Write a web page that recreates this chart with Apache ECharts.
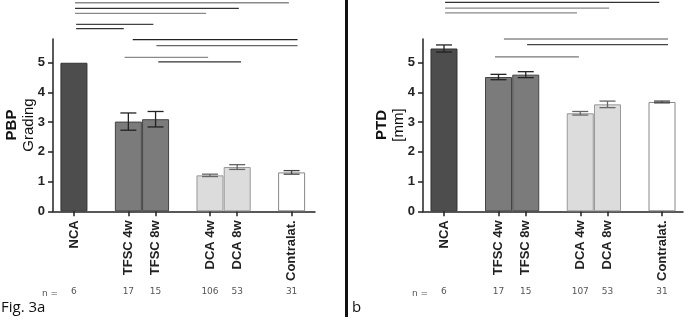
<!DOCTYPE html>
<html>
<head>
<meta charset="utf-8">
<script src="https://cdn.jsdelivr.net/npm/echarts@6/dist/echarts.min.js"></script>
<style>
body{margin:0;background:#fff;}
#wrap{position:relative;width:685px;height:317px;overflow:hidden;}
#main{width:685px;height:317px;}
.ov{position:absolute;white-space:nowrap;}
.ytitle{width:80px;height:34px;text-align:center;font-family:'Liberation Sans';font-size:15px;line-height:17px;color:#111;transform:rotate(-90deg);transform-origin:50% 50%;}
.ytitle b{font-weight:bold;}
.nrow{font-family:'DejaVu Sans';font-size:9px;line-height:9px;color:#555;}
.fig{font-family:'Open Sans';font-size:15px;line-height:15px;color:#111;}
#sep{position:absolute;left:345px;top:0;width:2.5px;height:317px;background:#111;}
</style>
</head>
<body>
<div id="wrap">
<div id="main"></div>
<div id="sep"></div>
<div class="ov ytitle" style="left:-21px;top:108px;"><b>PBP</b><br>Grading</div>
<div class="ov ytitle" style="left:349px;top:108px;"><b>PTD</b><br>[mm]</div>
<div class="ov nrow" style="left:42px;top:289px;">n =</div>
<div class="ov nrow" style="left:412px;top:289px;">n =</div>
<div class="ov fig" style="left:1px;top:299px;">Fig. 3a</div>
<div class="ov fig" style="left:352px;top:299px;">b</div>
</div>
<script>
// groups and their slot on the x axis (gaps between groups)
var groups = ['NCA', 'TFSC 4w', 'TFSC 8w', 'DCA 4w', 'DCA 8w', 'Contralat.'];
var slots = [0, 2, 3, 5, 6, 8];
var barColors = ['#4d4d4d', '#7b7b7b', '#7b7b7b', '#dcdcdc', '#dcdcdc', '#ffffff'];
var barBorders = ['#333333', '#444444', '#444444', '#999999', '#999999', '#888888'];
var errColors = ['#222222', '#222222', '#222222', '#666666', '#666666', '#444444'];

// Fig 3a: PBP grading
var pbpMean = [5.0, 3.02, 3.1, 1.21, 1.49, 1.31];
var pbpErr = [0, 0.29, 0.26, 0.04, 0.08, 0.06];
var pbpN = [6, 17, 15, 106, 53, 31];
// significance brackets: [from slot, to slot, height, colour]
var pbpLines = [
	[0.04, 7.9, 7.02, '#8a8a8a'],
	[0.04, 6.06, 6.83, '#333333'],
	[0.04, 4.86, 6.66, '#8a8a8a'],
	[0.08, 2.92, 6.29, '#444444'],
	[0.08, 1.83, 6.15, '#333333'],
	[2.16, 8.22, 5.78, '#222222'],
	[3.03, 8.22, 5.58, '#666666'],
	[1.86, 4.93, 5.18, '#8a8a8a'],
	[3.1, 6.14, 5.03, '#333333']
];

// Fig 3b: PTD [mm]
var ptdMean = [5.48, 4.52, 4.6, 3.3, 3.6, 3.68];
var ptdErr = [0.12, 0.09, 0.1, 0.06, 0.11, 0.03];
var ptdN = [6, 17, 15, 107, 53, 31];
var ptdLines = [
	[0.04, 7.9, 7.03, '#333333'],
	[0.04, 6.06, 6.84, '#8a8a8a'],
	[0.04, 4.88, 6.68, '#8a8a8a'],
	[2.2, 8.22, 5.8, '#8a8a8a'],
	[3.05, 8.22, 5.61, '#444444'],
	[1.87, 4.95, 5.2, '#777777']
];

var yTicks = [0, 1, 2, 3, 4, 5];
var font = 'Liberation Sans';

var myChart = echarts.init(document.getElementById('main'));

function xAxes(gi, xmax, nArr) {
	return [{
		type: 'value', gridIndex: gi, min: -0.77, max: xmax,
		axisLine: {onZero: false, lineStyle: {color: '#222', width: 1.5}},
		axisTick: {show: true, customValues: slots, length: 5, lineStyle: {color: '#222', width: 1.5}},
		splitLine: {show: false},
		axisLabel: {
			customValues: slots, rotate: 90, margin: 9, hideOverlap: false,
			fontFamily: font, fontWeight: 'bold', fontSize: 13, color: '#222',
			formatter: function (v) { return groups[slots.indexOf(Math.round(v))]; }
		}
	}, {
		type: 'value', gridIndex: gi, min: -0.77, max: xmax, position: 'bottom', offset: 76,
		axisLine: {show: false, onZero: false}, axisTick: {show: false}, splitLine: {show: false},
		axisLabel: {
			customValues: slots, margin: 0, hideOverlap: false,
			fontFamily: 'DejaVu Sans', fontSize: 9, color: '#555',
			formatter: function (v) { return nArr[slots.indexOf(Math.round(v))]; }
		}
	}];
}

function yAxis(gi) {
	return {
		type: 'value', gridIndex: gi, min: 0, max: 5.8, interval: 1,
		axisLine: {show: true, onZero: false, lineStyle: {color: '#222', width: 1.5}},
		axisTick: {show: true, customValues: yTicks, length: 5, lineStyle: {color: '#222', width: 1.5}},
		splitLine: {show: false},
		axisLabel: {
			showMaxLabel: false, margin: 8, hideOverlap: false,
			fontFamily: font, fontWeight: 'bold', fontSize: 13, color: '#222',
			formatter: function (v) { return yTicks.indexOf(v) >= 0 ? String(v) : ''; }
		}
	};
}

function barSeries(ax, means) {
	var data = [];
	for (var i = 0; i < means.length; i++) {
		data.push({
			value: [slots[i], means[i]],
			itemStyle: {color: barColors[i], borderColor: barBorders[i], borderWidth: 1}
		});
	}
	return {type: 'bar', xAxisIndex: ax, yAxisIndex: ax / 2, barWidth: 27, data: data, z: 2};
}

function errSeries(ax, means, errs) {
	var data = [];
	for (var i = 0; i < means.length; i++) {
		if (errs[i] > 0) data.push([slots[i], means[i] - errs[i], means[i] + errs[i], i]);
	}
	return {
		type: 'custom', xAxisIndex: ax, yAxisIndex: ax / 2, z: 3,
		renderItem: function (params, api) {
			var lo = api.coord([api.value(0), api.value(1)]);
			var hi = api.coord([api.value(0), api.value(2)]);
			var c = errColors[api.value(3)];
			var w = 8;
			return {
				type: 'group',
				children: [
					{type: 'line', shape: {x1: lo[0], y1: lo[1], x2: hi[0], y2: hi[1]}, style: {stroke: c, lineWidth: 1.3}},
					{type: 'line', shape: {x1: lo[0] - w, y1: lo[1], x2: lo[0] + w, y2: lo[1]}, style: {stroke: c, lineWidth: 1.3}},
					{type: 'line', shape: {x1: hi[0] - w, y1: hi[1], x2: hi[0] + w, y2: hi[1]}, style: {stroke: c, lineWidth: 1.3}}
				]
			};
		},
		data: data
	};
}

function lineSeries(ax, lines) {
	var out = [];
	for (var i = 0; i < lines.length; i++) {
		out.push({
			type: 'line', xAxisIndex: ax, yAxisIndex: ax / 2, clip: false,
			symbol: 'none', silent: true,
			lineStyle: {color: lines[i][3], width: 1.3},
			data: [[lines[i][0], lines[i][2]], [lines[i][1], lines[i][2]]]
		});
	}
	return out;
}

var series = [
	barSeries(0, pbpMean), errSeries(0, pbpMean, pbpErr),
	barSeries(2, ptdMean), errSeries(2, ptdMean, ptdErr)
].concat(lineSeries(0, pbpLines)).concat(lineSeries(2, ptdLines));

myChart.setOption({
	animation: false,
	grid: [
		{left: 53, top: 39, width: 262, height: 172.3},
		{left: 423, top: 39, width: 260, height: 172.3}
	],
	xAxis: xAxes(0, 8.86, pbpN).concat(xAxes(1, 8.77, ptdN)),
	yAxis: [yAxis(0), yAxis(1)],
	series: series
});
</script>
</body>
</html>
